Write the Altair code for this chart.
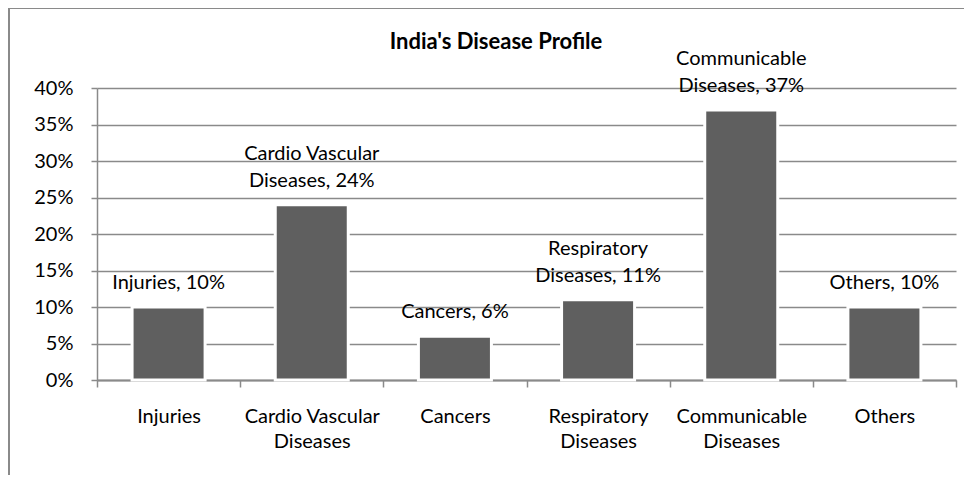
import altair as alt
import pandas as pd

categories = ["Injuries", "Cardio Vascular Diseases", "Cancers",
              "Respiratory Diseases", "Communicable Diseases", "Others"]
values = [10, 24, 6, 11, 37, 10]
y_ticks = [0, 5, 10, 15, 20, 25, 30, 35, 40]
title_text = "India's Disease Profile"

df = pd.DataFrame({"cat": categories, "val": values})

FONT = "Lato"
GRID = "#8a8a8a"

x_enc = alt.X(
    "cat:N", sort=categories, title=None,
    scale=alt.Scale(paddingInner=0, paddingOuter=0),
    axis=alt.Axis(
        labelAngle=0, labelFont=FONT, labelFontSize=20, labelColor="#000",
        labelExpr="split(replace(datum.label, ' Diseases', '|Diseases'), '|')",
        labelLineHeight=25, labelPadding=19, tickBand="extent",
        tickSize=7, tickColor=GRID, tickWidth=1.5,
        domainColor=GRID, domainWidth=2, grid=False,
    ),
)
y_enc = alt.Y(
    "val:Q", title=None,
    scale=alt.Scale(domain=[0, 40]),
    axis=alt.Axis(
        values=y_ticks, labelExpr="datum.value + '%'",
        labelFont=FONT, labelFontSize=20, labelColor="#000", labelPadding=18,
        tickSize=6, tickColor=GRID, tickWidth=1.5,
        domainColor=GRID, domainWidth=1.5,
        grid=True, gridColor=GRID, gridWidth=1.5,
    ),
)

base = alt.Chart(df)

frame = base.mark_rect(
    fill=None, stroke="#8a8a8a", strokeWidth=2, clip=False
).encode(
    x=alt.value(-88), x2=alt.value(1200), y=alt.value(-80), y2=alt.value(800)
).transform_filter("datum.cat == 'Injuries'")

title = base.mark_text(
    font=FONT, fontSize=22, fontWeight="bold", color="#000",
    align="center", baseline="middle"
).encode(
    x=alt.value(399), y=alt.value(-46), text=alt.value(title_text)
).transform_filter("datum.cat == 'Injuries'")

bars = base.mark_bar(
    color="#5f5f5f", stroke="#ffffff", strokeWidth=3,
    width=alt.RelativeBandSize(0.51)
).encode(x=x_enc, y=y_enc)

lab_base = base.transform_calculate(
    parts="split(replace(datum.cat + ', ' + datum.val + '%', ' Diseases', '|Diseases'), '|')"
).transform_calculate(
    last="peek(datum.parts)",
    first="length(datum.parts) > 1 ? datum.parts[0] : ''",
)

lab_last = lab_base.mark_text(
    baseline="middle", dy=-24, font=FONT, fontSize=20, color="#000"
).encode(x=x_enc, y=y_enc, text="last:N")

lab_first = lab_base.mark_text(
    baseline="middle", dy=-51, font=FONT, fontSize=20, color="#000"
).encode(x=x_enc, y=y_enc, text="first:N")

chart = alt.layer(frame, bars, lab_last, lab_first, title).properties(
    width=859, height=292,
    autosize=alt.AutoSizeParams(type="none"),
    padding={"left": 89, "top": 80, "right": 8, "bottom": 95},
).configure_view(stroke=None)

chart.save("out.html", embed_options={"renderer": "svg", "actions": False})
